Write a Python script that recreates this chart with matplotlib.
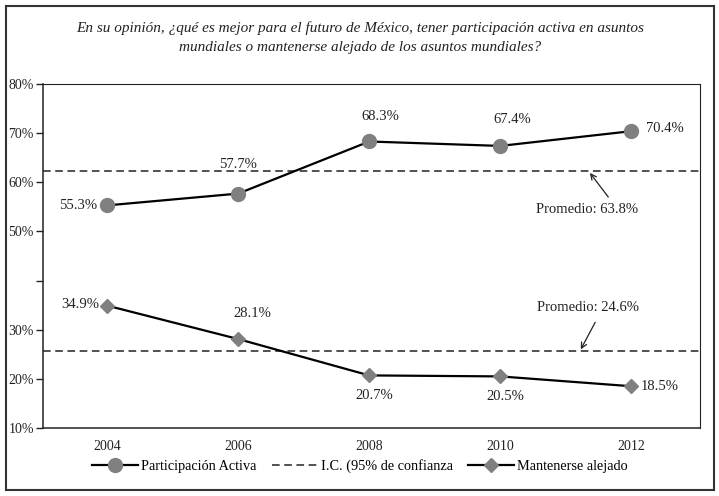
import matplotlib.pyplot as plt
from matplotlib.patches import Rectangle

# Datos
years = [2004, 2006, 2008, 2010, 2012]
activa = [55.3, 57.7, 68.3, 67.4, 70.4]
alejado = [34.9, 28.1, 20.7, 20.5, 18.5]
ic_activa = 62.2
ic_alejado = 25.7
prom_activa = 63.8
prom_alejado = 24.6
yticks = [10, 20, 30, 40, 50, 60, 70, 80]
ytick_labels = ['10%', '20%', '30%', '', '50%', '60%', '70%', '80%']

plt.rcParams['font.family'] = ['Liberation Serif', 'DejaVu Serif']

fig = plt.figure(figsize=(7.19, 4.96), dpi=100)
ax = fig.add_axes([43/719, 1 - 428/496, 657/719, 344/496])

gray = '#808080'
ink = '#222222'
ax.plot(years, activa, color='black', lw=1.6, marker='o', ms=10,
        mfc=gray, mec=gray, label='Participación Activa', zorder=3)
ax.axhline(ic_activa, color=ink, lw=1.1, ls=(0, (5, 3)),
           label='I.C. (95% de confianza', zorder=2)
ax.axhline(ic_alejado, color=ink, lw=1.1, ls=(0, (5, 3)), zorder=2)
ax.plot(years, alejado, color='black', lw=1.6, marker='D', ms=7,
        mfc=gray, mec=gray, label='Mantenerse alejado', zorder=3)

fs = 10.5
# etiquetas de la serie activa
offs_a = [(-7, 0, 'right', 'center'), (0, 16, 'center', 'bottom'),
          (8, 13, 'center', 'bottom'), (9, 14, 'center', 'bottom'),
          (11, 2, 'left', 'center')]
for x, y, (dx, dy, ha, va) in zip(years, activa, offs_a):
    ax.annotate(f'{y:.1f}%', (x, y), xytext=(dx, dy), textcoords='offset points',
                ha=ha, va=va, fontsize=fs, color=ink)

offs_b = [(-6, 1, 'right', 'center'), (10, 14, 'center', 'bottom'),
          (3.5, -10, 'center', 'top'), (3.5, -10, 'center', 'top'),
          (7, 0, 'left', 'center')]
for x, y, (dx, dy, ha, va) in zip(years, alejado, offs_b):
    ax.annotate(f'{y:.1f}%', (x, y), xytext=(dx, dy), textcoords='offset points',
                ha=ha, va=va, fontsize=fs, color=ink)

arrow = dict(arrowstyle='->', color=ink, lw=0.9, shrinkA=0, shrinkB=0)
ax.text(2011.32, 54.4, f'Promedio: {prom_activa:.1f}%', ha='center', va='center',
        fontsize=fs, color=ink)
ax.annotate('', xy=(2011.37, 61.9), xytext=(2011.65, 57.0), arrowprops=arrow)
ax.text(2011.34, 34.5, f'Promedio: {prom_alejado:.1f}%', ha='center', va='center',
        fontsize=fs, color=ink)
ax.annotate('', xy=(2011.23, 26.0), xytext=(2011.45, 31.5), arrowprops=arrow)

ax.set_xlim(2003.02, 2013.05)
ax.set_ylim(10, 80)
ax.set_xticks(years)
ax.set_xticklabels([str(y) for y in years], fontsize=10)
ax.set_yticks(yticks)
ax.set_yticklabels(ytick_labels, fontsize=10)
ax.tick_params(axis='x', length=0, pad=9, colors=ink)
ax.tick_params(axis='y', length=5, width=1, direction='out', pad=1.5, colors=ink)
for s in ax.spines.values():
    s.set_linewidth(1.1)
    s.set_color(ink)
ax.spines['right'].set_linewidth(0.8)
ax.spines['top'].set_linewidth(0.8)

fig.text(360/719, 1 - 28/496,
         'En su opinión, ¿qué es mejor para el futuro de México, tener participación activa en asuntos',
         ha='center', va='center', fontsize=11, style='italic', color=ink)
fig.text(360/719, 1 - 48/496,
         'mundiales o mantenerse alejado de los asuntos mundiales?',
         ha='center', va='center', fontsize=11, style='italic', color=ink)

fig.legend(loc='center', bbox_to_anchor=(360/719, 1 - 466/496), ncol=3,
           frameon=False, fontsize=10.3, handlelength=3.2, handletextpad=0.2,
           columnspacing=1.1)

fig.patches.append(Rectangle((6/719, 6/496), 708/719, 484/496, transform=fig.transFigure,
                             fill=False, lw=1.5, ec='#333333'))

plt.savefig('out.png', dpi=100)
